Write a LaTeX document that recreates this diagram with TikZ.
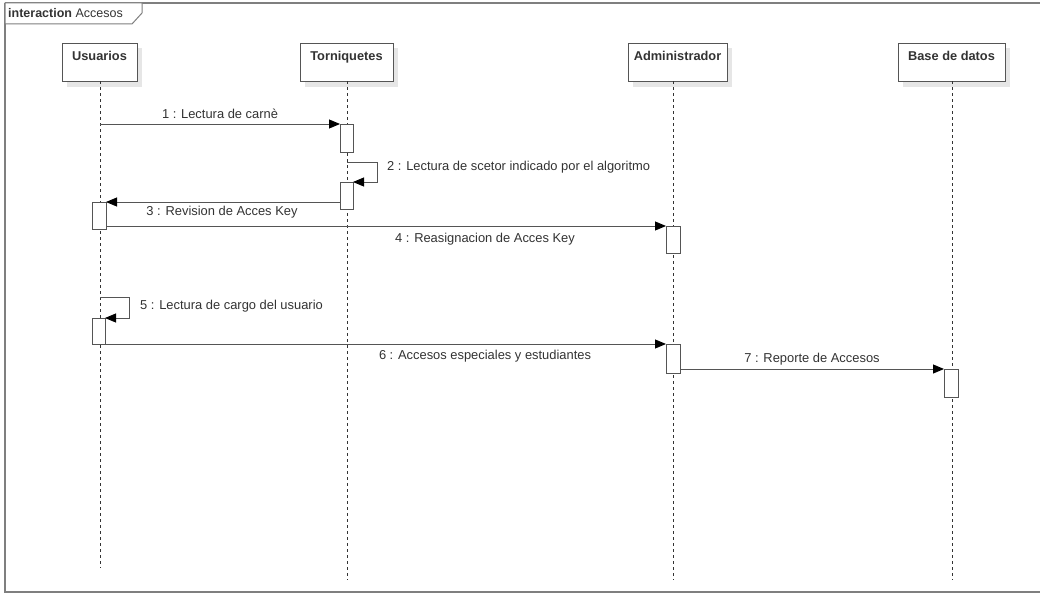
\documentclass[tikz,border=0pt]{standalone}
\usepackage{fontspec}
\setmainfont{Liberation Sans}
\usetikzlibrary{arrows.meta}
\definecolor{framegray}{HTML}{7F7F7F}
\definecolor{linegray}{HTML}{555555}
\definecolor{textgray}{HTML}{333333}
\definecolor{shadowgray}{HTML}{E6E6E6}
\tikzset{
  head/.style={draw=linegray, fill=white, line width=0.9pt, minimum width=#1, minimum height=38pt,
    inner sep=0pt, anchor=north, font=\bfseries\fontsize{12.8}{14}\selectfont, text=textgray,
    text depth=14pt},
  lifeline/.style={draw=black!80, line width=0.8pt, dash pattern=on 3pt off 3pt},
  act/.style={draw=linegray, fill=white, line width=0.9pt},
  msg/.style={draw=linegray, line width=0.9pt, -{Triangle[length=11pt,width=9pt,fill=black,color=black]}},
  lbl/.style={font=\fontsize{12.9}{15}\selectfont, text=textgray, inner sep=0pt},
}
\begin{document}
\begin{tikzpicture}[x=1pt,y=-1pt]
\useasboundingbox (0,0) rectangle (1040,594);
\fill[white] (0,0) rectangle (1040,594);
% frame and its tab
\draw[framegray, line width=1.3pt] (5,3) -- (1045,3) (5,3) -- (5,592) -- (1045,592);
\draw[framegray, line width=1pt, fill=white] (5,3) -- (142,3) -- (142,13) -- (132,24) -- (5,24) -- cycle;
\node[anchor=west, inner sep=0pt, font=\fontsize{12.5}{14}\selectfont, text=textgray] (frametitle) at (8,13.5) {\textbf{interaction} Accesos};

% participant heads with shadows
\foreach \x/\w in {99.5/75, 346.5/93, 677.5/99, 951.5/107}{
  \fill[shadowgray] (\x-\w/2+5,48) rectangle (\x+\w/2+5,87);
}
\node[head=75pt] (u) at (99.5,43) {Usuarios};
\node[head=93pt] (t) at (346.5,43) {Torniquetes};
\node[head=99pt] (a) at (677.5,43) {Administrador};
\node[head=107pt] (b) at (951.5,43) {Base de datos};

% lifelines
\coordinate (uend) at (100,568);
\coordinate (tend) at (347,580);
\coordinate (aend) at (673,580);
\coordinate (bend) at (952,580);
\draw[lifeline] (100,81) -- (uend);
\draw[lifeline] (347,81) -- (tend);
\draw[lifeline] (673,81) -- (aend);
\draw[lifeline] (952,81) -- (bend);

% activation bars
\draw[act] (340,124) rectangle (353,152);
\coordinate (t1) at (340,124);
\draw[act] (340,182) rectangle (353,209);
\coordinate (t2in) at (353,182);
\coordinate (t2out) at (340,202);
\draw[act] (92,202) rectangle (106,229);
\coordinate (u1in) at (106,202);
\coordinate (u1out) at (106,226);
\draw[act] (666,226) rectangle (680,253);
\coordinate (a1) at (666,226);
\draw[act] (92,318) rectangle (105,344);
\coordinate (u2in) at (105,318);
\coordinate (u2out) at (105,344);
\draw[act] (666,344) rectangle (680,373);
\coordinate (a2in) at (666,344);
\coordinate (a2out) at (680,369);
\draw[act] (944,369) rectangle (958,397);
\coordinate (b1) at (944,369);

% messages
\coordinate (m1s) at (100,124);
\draw[msg] (m1s) -- (t1);
\node[lbl] (l1) at (220,114) {1 : Lectura de carnè};

\coordinate (m2s) at (347,162);
\draw[msg] (m2s) -- (377,162) -- (377,182) -- (t2in);
\node[lbl, anchor=west] (l2) at (387,167) {2 : Lectura de scetor indicado por el algoritmo};

\draw[msg] (t2out) -- (u1in);
\node[lbl] (l3) at (222,212) {3 : Revision de Acces Key};

\draw[msg] (u1out) -- (a1);
\node[lbl] (l4) at (485,239) {4 : Reasignacion de Acces Key};

\coordinate (m5s) at (100,297);
\draw[msg] (m5s) -- (129,297) -- (129,318) -- (u2in);
\node[lbl, anchor=west] (l5) at (140,306) {5 : Lectura de cargo del usuario};

\draw[msg] (u2out) -- (a2in);
\node[lbl] (l6) at (485,356) {6 : Accesos especiales y estudiantes};

\draw[msg] (a2out) -- (b1);
\node[lbl] (l7) at (812,359) {7 : Reporte de Accesos};
\end{tikzpicture}
\end{document}
